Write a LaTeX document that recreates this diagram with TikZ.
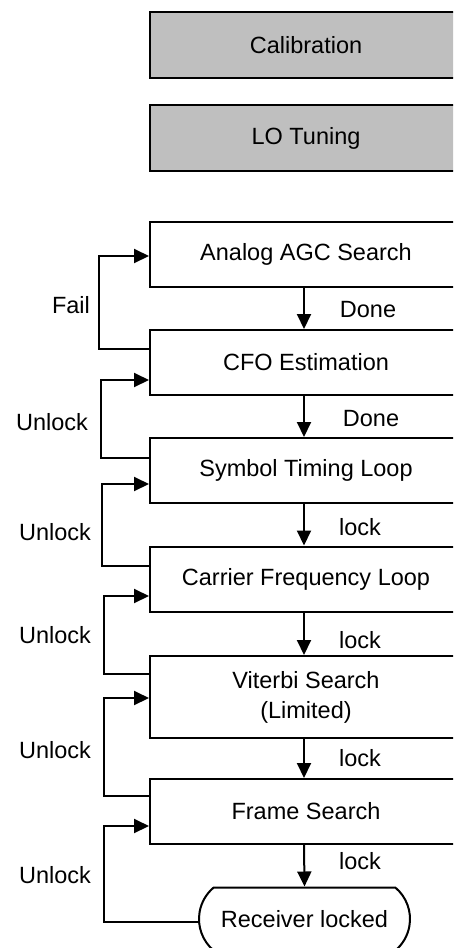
\documentclass[tikz,border=0pt]{standalone}
\usepackage{fontspec}
\setmainfont{Liberation Sans}
\usetikzlibrary{arrows.meta,shapes.misc}
\begin{document}
\begin{tikzpicture}[x=1pt,y=-1pt,
  every node/.style={font=\fontsize{23.5}{30}\selectfont},
  box/.style={draw,line width=2pt,rectangle,inner sep=0pt,minimum width=312pt,minimum height=65pt,align=center},
  graybox/.style={box,fill=black!25,minimum height=66pt},
  termbox/.style={draw,line width=2pt,rounded rectangle,rounded rectangle arc length=100,inner sep=0pt,minimum width=211pt,minimum height=63pt},
  arr/.style={line width=2pt,-{Triangle[length=15pt,width=14pt]}},
  lbl/.style={inner sep=0pt}
]
\clip (0,0) rectangle (453,948);
\useasboundingbox (0,0) rectangle (453,948);
\fill[white] (0,0) rectangle (453,948);

\node[graybox] (cal) at (306,45) {Calibration};
\node[graybox] (lo) at (306,138) {LO Tuning};
\node[box] (agc) at (306,254.5) {Analog AGC Search};
\node[box] (cfo) at (306,362.5) {CFO Estimation};
\node[box] (stl) at (306,470.5) {Symbol Timing Loop};
\node[box] (cfl) at (306,579) {Carrier Frequency Loop};
\node[box,minimum height=82pt] (vit) at (306,697) {Viterbi Search\\(Limited)};
\node[box] (frm) at (306,811.5) {Frame Search};
\node[termbox] (rcv) at (304.5,919) {Receiver locked};

% forward arrows
\draw[arr] ([xshift=-2pt]agc.south) -- ([xshift=-2pt]cfo.north);
\draw[arr] ([xshift=-2pt]cfo.south) -- ([xshift=-2pt]stl.north);
\draw[arr] ([xshift=-2pt]stl.south) -- ([xshift=-2pt]cfl.north);
\draw[arr] ([xshift=-2pt]cfl.south) -- ([xshift=-2pt]vit.north);
\draw[arr] ([xshift=-2pt]vit.south) -- ([xshift=-2pt]frm.north);
\draw[arr] ([xshift=-2pt]frm.south) -- (rcv.north);

% feedback loops
\draw[arr] ([yshift=13.5pt]cfo.west) -- ++(-50pt,0pt) |- ([yshift=-1.5pt]agc.west);
\draw[arr] ([yshift=12.5pt]stl.west) -- ++(-48pt,0pt) |- ([yshift=-17.5pt]cfo.west);
\draw[arr] ([yshift=13pt]cfl.west) -- ++(-47pt,0pt) |- ([yshift=-13.5pt]stl.west);
\draw[arr] ([yshift=23pt]vit.west) -- ++(-45pt,0pt) |- ([yshift=-17pt]cfl.west);
\draw[arr] ([yshift=15.5pt]frm.west) -- ++(-45pt,0pt) |- ([yshift=-1pt]vit.west);
\draw[arr] ([yshift=-3pt]rcv.west) -- ++(-94pt,0pt) |- ([yshift=-14.5pt]frm.west);

% labels
\node[lbl] (l1) at (71,305) {Fail};
\node[lbl] (l2) at (368,310) {Done};
\node[lbl] (l3) at (52,422) {Unlock};
\node[lbl] (l4) at (371,419) {Done};
\node[lbl] (l5) at (55,532) {Unlock};
\node[lbl] (l6) at (360,527) {lock};
\node[lbl] (l7) at (55,635) {Unlock};
\node[lbl] (l8) at (360,640) {lock};
\node[lbl] (l9) at (55,750) {Unlock};
\node[lbl] (l10) at (360,758) {lock};
\node[lbl] (l11) at (55,875) {Unlock};
\node[lbl] (l12) at (360,861) {lock};
\end{tikzpicture}
\end{document}
